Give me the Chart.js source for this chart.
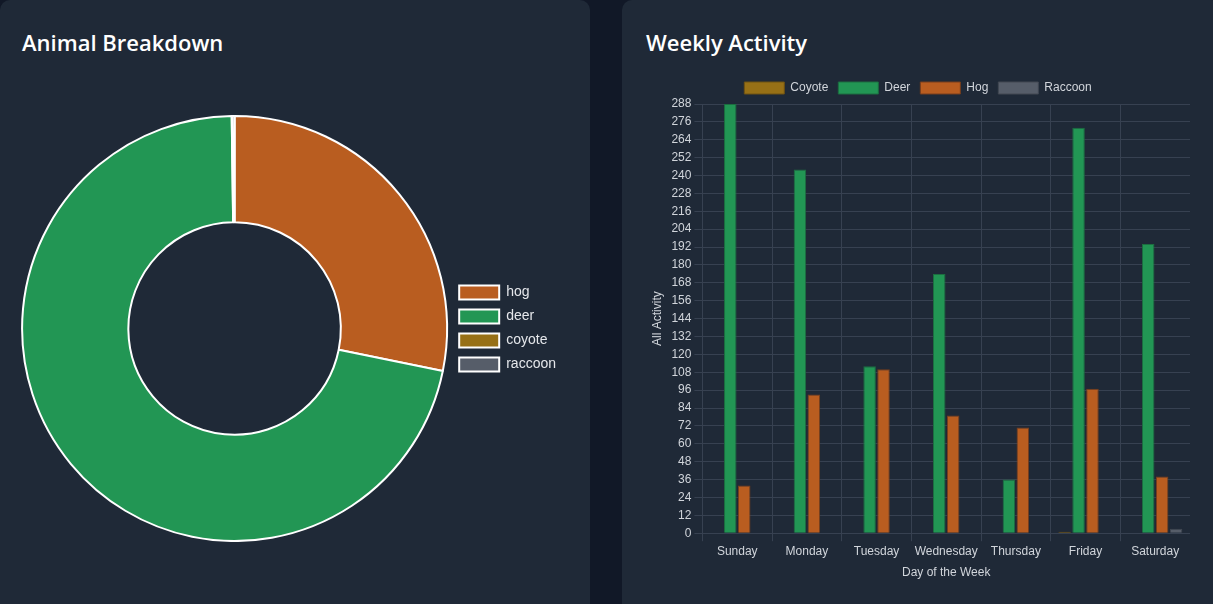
<!DOCTYPE html>
<html>
<head>
<meta charset="utf-8">
<script src="https://cdn.jsdelivr.net/npm/chart.js@4.4.1/dist/chart.umd.min.js"></script>
<style>
  html, body { margin: 0; padding: 0; background: #111827; width: 1213px; height: 604px; overflow: hidden; }
  .card { position: absolute; top: 0; height: 640px; background: #1f2937; border-radius: 10px; }
  #cardA { left: 0; width: 590px; }
  #cardB { left: 622px; width: 600px; }
  h2 { position: absolute; margin: 0; color: #ffffff; font-family: "Open Sans", "Noto Sans", sans-serif; font-weight: 600; font-size: 22px; line-height: 30px; }
  #titleA { left: 22px; top: 27px; }
  #titleB { left: 646px; top: 27px; }
  .wrap { position: absolute; }
  #wrapA { left: 20px; top: 115px; width: 546px; height: 427px; }
  #wrapB { left: 646px; top: 72px; width: 544px; height: 512px; }
</style>
</head>
<body>
<div class="card" id="cardA"></div>
<div class="card" id="cardB"></div>
<h2 id="titleA">Animal Breakdown</h2>
<h2 id="titleB">Weekly Activity</h2>
<div class="wrap" id="wrapA"><canvas id="donut"></canvas></div>
<div class="wrap" id="wrapB"><canvas id="bars"></canvas></div>
<script>
// ---- data ----
const breakdownLabels = ['hog', 'deer', 'coyote', 'raccoon'];
const breakdownValues = [520, 1320, 1, 3];

const days = ['Sunday', 'Monday', 'Tuesday', 'Wednesday', 'Thursday', 'Friday', 'Saturday'];
const coyoteByDay  = [0, 0, 0, 0, 0, 1, 0];
const deerByDay    = [288, 244, 112, 174, 36, 272, 194];
const hogByDay     = [32, 93, 110, 79, 71, 97, 38];
const raccoonByDay = [0, 0, 0, 0, 0, 0, 3];

const yMax = 288;
const yStep = 12;

// ---- styles ----
const C = {
  hog: 'rgb(185,93,32)',
  deer: 'rgb(34,150,84)',
  coyote: 'rgb(151,112,22)',
  raccoon: 'rgb(86,93,105)'
};
const CB = {
  hog: 'rgb(120,62,28)',
  deer: 'rgb(28,110,64)',
  coyote: 'rgb(110,82,18)',
  raccoon: 'rgb(66,72,82)'
};
const textColor = '#d1d5db';
const gridColor = '#374151';

Chart.defaults.font.family = "'Liberation Sans', Arial, sans-serif";
Chart.defaults.animation = false;

new Chart(document.getElementById('donut'), {
  type: 'doughnut',
  data: {
    labels: breakdownLabels,
    datasets: [{
      data: breakdownValues,
      backgroundColor: [C.hog, C.deer, C.coyote, C.raccoon],
      borderColor: '#ffffff',
      borderWidth: 2
    }]
  },
  options: {
    responsive: true,
    maintainAspectRatio: false,
    cutout: '50%',
    plugins: {
      legend: {
        position: 'right',
        labels: { color: '#e5e7eb', font: { size: 14 }, boxWidth: 40 }
      },
      tooltip: { enabled: false }
    }
  }
});

new Chart(document.getElementById('bars'), {
  type: 'bar',
  data: {
    labels: days,
    datasets: [
      { label: 'Coyote', data: coyoteByDay, backgroundColor: C.coyote, borderColor: CB.coyote, borderWidth: 1 },
      { label: 'Deer', data: deerByDay, backgroundColor: C.deer, borderColor: CB.deer, borderWidth: 1 },
      { label: 'Hog', data: hogByDay, backgroundColor: C.hog, borderColor: CB.hog, borderWidth: 1 },
      { label: 'Raccoon', data: raccoonByDay, backgroundColor: C.raccoon, borderColor: CB.raccoon, borderWidth: 1 }
    ]
  },
  options: {
    responsive: true,
    maintainAspectRatio: false,
    plugins: {
      legend: { position: 'top', labels: { color: textColor, font: { size: 12 }, boxWidth: 40 } },
      tooltip: { enabled: false }
    },
    scales: {
      x: {
        title: { display: true, text: 'Day of the Week', color: textColor, font: { size: 12 } },
        ticks: { color: textColor, font: { size: 12 } },
        grid: { color: gridColor },
        border: { color: gridColor }
      },
      y: {
        min: 0,
        max: yMax,
        title: { display: true, text: 'All Activity', color: textColor, font: { size: 12 } },
        ticks: { color: textColor, font: { size: 12 }, stepSize: yStep },
        grid: { color: gridColor },
        border: { color: gridColor }
      }
    }
  }
});
</script>
</body>
</html>
